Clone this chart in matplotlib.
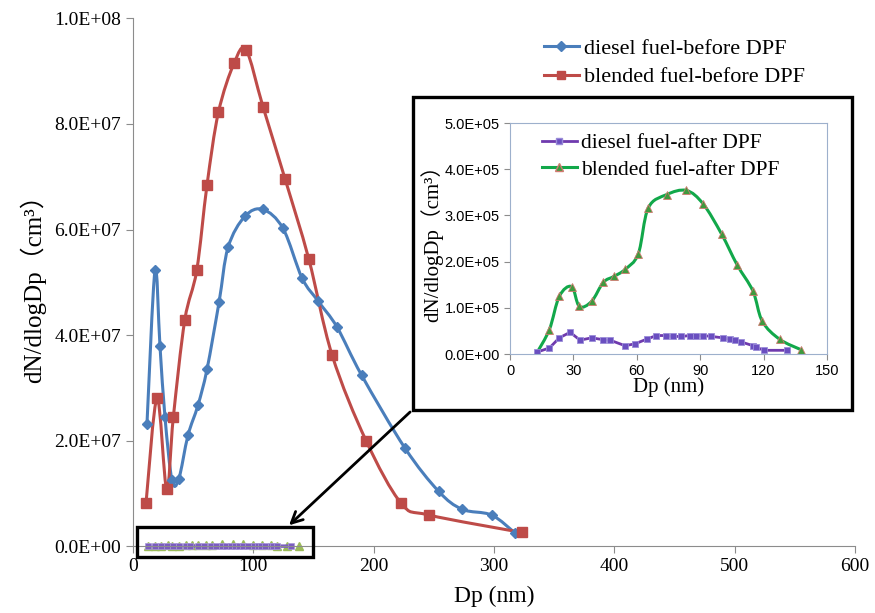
import numpy as np
import matplotlib.pyplot as plt
from matplotlib.path import Path
from matplotlib.patches import PathPatch, Rectangle, FancyArrowPatch
from matplotlib.lines import Line2D
from matplotlib.ticker import FuncFormatter, MultipleLocator

# diesel fuel - before DPF
dp_diesel_before = [11.6, 18.3, 22.4, 26.6, 32.4, 38, 45.7, 54, 61.5, 71.5, 79, 93, 108,
                    124.7, 140.5, 154, 169.6, 190, 226, 254, 273.5, 298, 317.5]
n_diesel_before = [2.31e7, 5.23e7, 3.8e7, 2.44e7, 1.25e7, 1.27e7, 2.1e7, 2.67e7, 3.35e7,
                   4.62e7, 5.66e7, 6.25e7, 6.38e7, 6.02e7, 5.08e7, 4.64e7, 4.15e7,
                   3.24e7, 1.86e7, 1.04e7, 7.0e6, 5.9e6, 2.5e6]
# blended fuel - before DPF
dp_blend_before = [10.8, 20, 28, 33.5, 43, 53, 61.5, 71, 84, 94, 108, 126.5, 146, 165.5,
                   193.7, 223, 246, 323]
n_blend_before = [8.1e6, 2.8e7, 1.08e7, 2.44e7, 4.28e7, 5.23e7, 6.84e7, 8.22e7, 9.15e7,
                  9.4e7, 8.33e7, 6.95e7, 5.45e7, 3.62e7, 2.0e7, 8.1e6, 5.9e6, 2.6e6]
# diesel fuel - after DPF
dp_diesel_after = [12.6, 18.6, 23.3, 28.4, 33.1, 38.6, 44.1, 47.3, 54.4, 59.1, 64.6, 69.3,
                   73.7, 77.2, 81.1, 85.1, 88.2, 91.4, 95.3, 100.8, 104, 106.4, 109.5,
                   115, 116.6, 120, 131.1]
n_diesel_after = [4e3, 1.3e4, 3.5e4, 4.7e4, 3.0e4, 3.5e4, 3.1e4, 3.0e4, 1.8e4, 2.2e4, 3.2e4,
                  4.0e4, 4.0e4, 3.8e4, 3.8e4, 4.0e4, 4.0e4, 4.0e4, 3.8e4, 3.5e4, 3.2e4,
                  3.0e4, 2.6e4, 1.8e4, 1.5e4, 8e3, 8e3]
# blended fuel - after DPF
dp_blend_after = [12.6, 18.6, 23.3, 29.1, 32.8, 38.6, 44.1, 49.2, 54.4, 60.7, 65.4, 74.1,
                  83.5, 91.4, 100.1, 107.5, 115, 119.4, 127.6, 137.9]
n_blend_after = [2e3, 5.3e4, 1.25e5, 1.46e5, 1.03e5, 1.14e5, 1.55e5, 1.68e5, 1.83e5,
                 2.17e5, 3.16e5, 3.45e5, 3.54e5, 3.25e5, 2.6e5, 1.93e5, 1.36e5, 7.1e4,
                 3.2e4, 9e3]

labels_before = ['diesel fuel-before DPF', 'blended fuel-before DPF']
labels_after = ['diesel fuel-after DPF', 'blended fuel-after DPF']

serif = ['Liberation Serif', 'Noto Sans CJK SC']
plt.rcParams['font.family'] = serif


def smooth(ax, x, y, color, lw):
    # excel-like smoothed line (cubic bezier through the points)
    p = np.column_stack([x, y]).astype(float)
    ext = np.vstack([p[0], p, p[-1]])
    verts = [p[0]]
    codes = [Path.MOVETO]
    for i in range(len(p) - 1):
        c1 = ext[i + 1] + (ext[i + 2] - ext[i]) / 6
        c2 = ext[i + 2] - (ext[i + 3] - ext[i + 1]) / 6
        verts += [c1, c2, ext[i + 2]]
        codes += [Path.CURVE4] * 3
    ax.add_patch(PathPatch(Path(verts, codes), fc='none', ec=color, lw=lw,
                           capstyle='round', joinstyle='round'))


sci = FuncFormatter(lambda v, pos: f'{v:.1E}')

fig = plt.figure(figsize=(8.75, 6.13), dpi=100)
ax = fig.add_axes([0.152, 0.109, 0.825, 0.861])

blue, red = '#4A7EBB', '#BE4B48'
smooth(ax, dp_diesel_before, n_diesel_before, blue, 2.2)
ax.plot(dp_diesel_before, n_diesel_before, ls='none', marker='D', ms=5, color=blue)
smooth(ax, dp_blend_before, n_blend_before, red, 2.2)
ax.plot(dp_blend_before, n_blend_before, ls='none', marker='s', ms=7, color=red)

# after-DPF series are also on the main axes (near zero)
ax.plot(dp_blend_after, n_blend_after, ls='none', marker='^', ms=6, color='#9BBB59',
        clip_on=False)
ax.plot(dp_diesel_after, n_diesel_after, '-', color='#7B5CC0', lw=2.5, marker='s', ms=4,
        mfc='#7B5CC0', mec='#A898D8', mew=0.5, clip_on=False)

ax.set_xlim(0, 600)
ax.set_ylim(0, 1e8)
ax.xaxis.set_major_locator(MultipleLocator(100))
ax.yaxis.set_major_locator(MultipleLocator(2e7))
ax.yaxis.set_major_formatter(sci)
for s in ['top', 'right']:
    ax.spines[s].set_visible(False)
for s in ['left', 'bottom']:
    ax.spines[s].set_color('#8C8C8C')
ax.tick_params(direction='out', length=5, color='#8C8C8C', labelsize=14)
ax.set_xlabel('Dp (nm)', fontsize=17, labelpad=8)
ax.set_ylabel('dN/dlogDp（cm³）', fontsize=18, labelpad=6)

h1 = [Line2D([], [], color=blue, lw=2.2, marker='D', ms=5),
      Line2D([], [], color=red, lw=2.2, marker='s', ms=6)]
ax.legend(h1, labels_before, loc='upper right', bbox_to_anchor=(0.958, 1.0), frameon=False,
          fontsize=16, handlelength=1.6, handletextpad=0.2, labelspacing=0.35)

# inset frame, small box and arrow
ax.add_patch(Rectangle((0.472, 0.331), 0.502, 0.511, transform=fig.transFigure,
                       fc='white', ec='black', lw=2.4, clip_on=False, zorder=5))
ax.add_patch(Rectangle((0.157, 0.092), 0.201, 0.048, transform=fig.transFigure,
                       fc='none', ec='black', lw=2.4, clip_on=False, zorder=5))
ax.add_patch(FancyArrowPatch((0.471, 0.331), (0.328, 0.140), transform=fig.transFigure,
                             arrowstyle='->,head_length=8,head_width=4', color='black',
                             lw=2, clip_on=False, zorder=5))

# inset
ins = fig.add_axes([0.583, 0.4225, 0.362, 0.3768])
green = '#12A84A'
smooth(ins, dp_blend_after, n_blend_after, green, 2.2)
ins.plot(dp_blend_after, n_blend_after, ls='none', marker='^', ms=6, mfc='#3E9A3E',
         mec='#D07A70', mew=0.6)
purple = '#6F3AAE'
ins.plot(dp_diesel_after, n_diesel_after, '-', color=purple, lw=2, marker='s', ms=5,
         mfc='#6A4FC0', mec='#9A8CD8', mew=0.6)
ins.set_xlim(0, 150)
ins.set_ylim(0, 5e5)
ins.xaxis.set_major_locator(MultipleLocator(30))
ins.yaxis.set_major_locator(MultipleLocator(1e5))
ins.yaxis.set_major_formatter(sci)
for s in ins.spines.values():
    s.set_color('#9DB0CC')
ins.tick_params(direction='out', length=4, color='#8C8C8C', labelsize=10.5)
for t in ins.get_xticklabels() + ins.get_yticklabels():
    t.set_family('Liberation Sans')
ins.set_xlabel('Dp (nm)', fontsize=15, labelpad=-1)
ins.set_ylabel('dN/dlogDp（cm³）', fontsize=15, labelpad=1)
h2 = [Line2D([], [], color=purple, lw=2, marker='s', ms=5, mfc='#6A4FC0', mec='#9A8CD8'),
      Line2D([], [], color=green, lw=2.2, marker='^', ms=6, mfc='#3E9A3E', mec='#D07A70')]
ins.legend(h2, labels_after, loc='upper left', bbox_to_anchor=(0.04, 1.04), frameon=False,
           fontsize=15.5, handlelength=1.6, handletextpad=0.2, labelspacing=0.3)

fig.savefig('out.png', dpi=100)
